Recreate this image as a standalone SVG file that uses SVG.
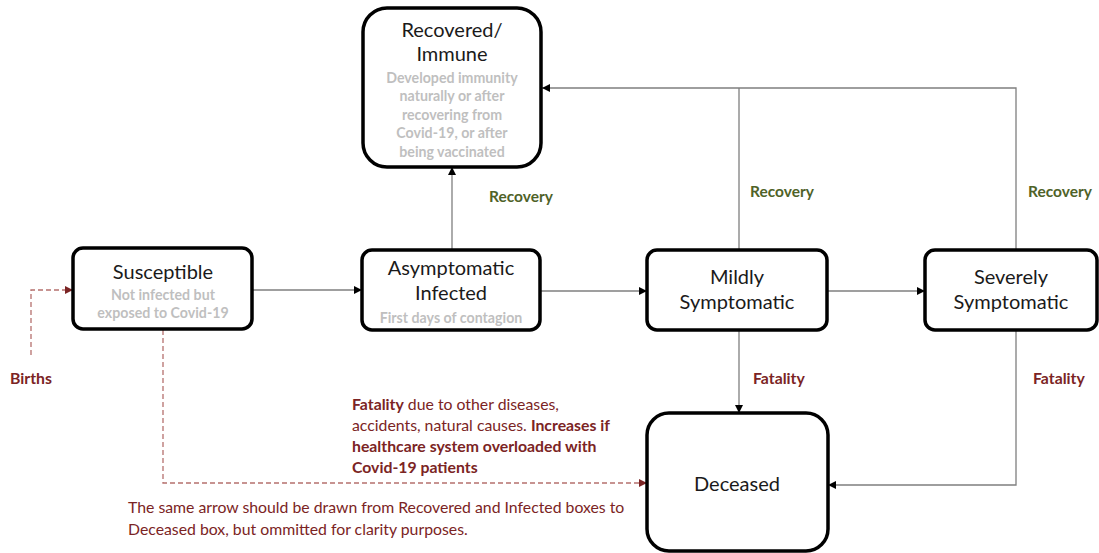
<svg xmlns="http://www.w3.org/2000/svg" width="1099" height="553" viewBox="0 0 1099 553">
<style>
.box{fill:#fff;stroke:#000;stroke-width:3.5}
.t{font-family:Lato,"Liberation Sans",sans-serif;font-size:20px;fill:#1a1a1a;text-anchor:middle}
.s{font-family:Lato,"Liberation Sans",sans-serif;font-size:14.2px;font-weight:bold;fill:#bfbfbf;text-anchor:middle}
.g{font-family:Lato,"Liberation Sans",sans-serif;font-size:15.5px;font-weight:bold;fill:#4f6228}
.r{font-family:Lato,"Liberation Sans",sans-serif;font-size:15.8px;fill:#7b2424}
.rb{font-weight:bold}
.c{fill:none;stroke:#7f7f7f;stroke-width:1.3}
.d{fill:none;stroke:#b5706e;stroke-width:1.3;stroke-dasharray:5 3}
</style>
<defs>
<marker id="a" viewBox="0 0 10 10" refX="10" refY="5" markerWidth="8" markerHeight="8" markerUnits="userSpaceOnUse" orient="auto"><path d="M0,0 L10,5 L0,10 z" fill="#000"/></marker>
<marker id="ar" viewBox="0 0 10 10" refX="10" refY="5" markerWidth="8" markerHeight="8" markerUnits="userSpaceOnUse" orient="auto"><path d="M0,0 L10,5 L0,10 z" fill="#7b2424"/></marker>
</defs>
<g id="connectors">
<path class="c" d="M252,290 H362" marker-end="url(#a)"/>
<path class="c" d="M540,291 H647" marker-end="url(#a)"/>
<path class="c" d="M827,291 H925" marker-end="url(#a)"/>
<path class="c" d="M452,250 V167" marker-end="url(#a)"/>
<path class="c" d="M739,250 V88 M1016,250 V88 H542" marker-end="url(#a)"/>
<path class="c" d="M739,330 V413" marker-end="url(#a)"/>
<path class="c" d="M1016,330 V485 H828" marker-end="url(#a)"/>
<path class="d" d="M163,330 V483 H647" marker-end="url(#ar)"/>
<path class="d" d="M31,355 V290 H73" marker-end="url(#ar)"/>
</g>
<g id="recovered">
<rect class="box" x="363" y="8" width="178" height="159" rx="24"/>
<text class="t" x="452" y="37">Recovered/</text>
<text class="t" x="452" y="61">Immune</text>
<text class="s" x="452" y="83">Developed immunity</text>
<text class="s" x="452" y="101">naturally or  after</text>
<text class="s" x="452" y="120">recovering from</text>
<text class="s" x="452" y="138">Covid-19, or after</text>
<text class="s" x="452" y="157">being vaccinated</text>
</g>
<g id="susceptible">
<rect class="box" x="73" y="248" width="179" height="81" rx="10"/>
<text class="t" x="163" y="279">Susceptible</text>
<text class="s" x="163" y="300">Not infected but</text>
<text class="s" x="163" y="318">exposed to Covid-19</text>
</g>
<g id="asymptomatic">
<rect class="box" x="362" y="250" width="178" height="80" rx="10"/>
<text class="t" x="451" y="275">Asymptomatic</text>
<text class="t" x="451" y="300">Infected</text>
<text class="s" x="451" y="323">First days of contagion</text>
</g>
<g id="mildly">
<rect class="box" x="647" y="250" width="180" height="80" rx="10"/>
<text class="t" x="737" y="284">Mildly</text>
<text class="t" x="737" y="309">Symptomatic</text>
</g>
<g id="severely">
<rect class="box" x="925" y="250" width="172" height="80" rx="10"/>
<text class="t" x="1011" y="284">Severely</text>
<text class="t" x="1011" y="309">Symptomatic</text>
</g>
<g id="deceased">
<rect class="box" x="647" y="413" width="181" height="138" rx="22"/>
<text class="t" x="737" y="491">Deceased</text>
</g>
<g id="labels">
<text class="g" x="489" y="202">Recovery</text>
<text class="g" x="750" y="197">Recovery</text>
<text class="g" x="1028" y="197">Recovery</text>
<text class="r rb" x="753" y="384">Fatality</text>
<text class="r rb" x="1033" y="384">Fatality</text>
<text class="r rb" x="10" y="384">Births</text>
<text class="r" x="352" y="410"><tspan class="rb">Fatality</tspan> due to other diseases,</text>
<text class="r" x="352" y="431">accidents, natural causes. <tspan class="rb">Increases if</tspan></text>
<text class="r rb" x="352" y="452">healthcare system overloaded with</text>
<text class="r rb" x="352" y="473">Covid-19 patients</text>
<text class="r" x="128" y="513">The same arrow should be drawn from Recovered and Infected boxes to</text>
<text class="r" x="128" y="535">Deceased box, but ommitted for clarity purposes.</text>
</g>
</svg>
